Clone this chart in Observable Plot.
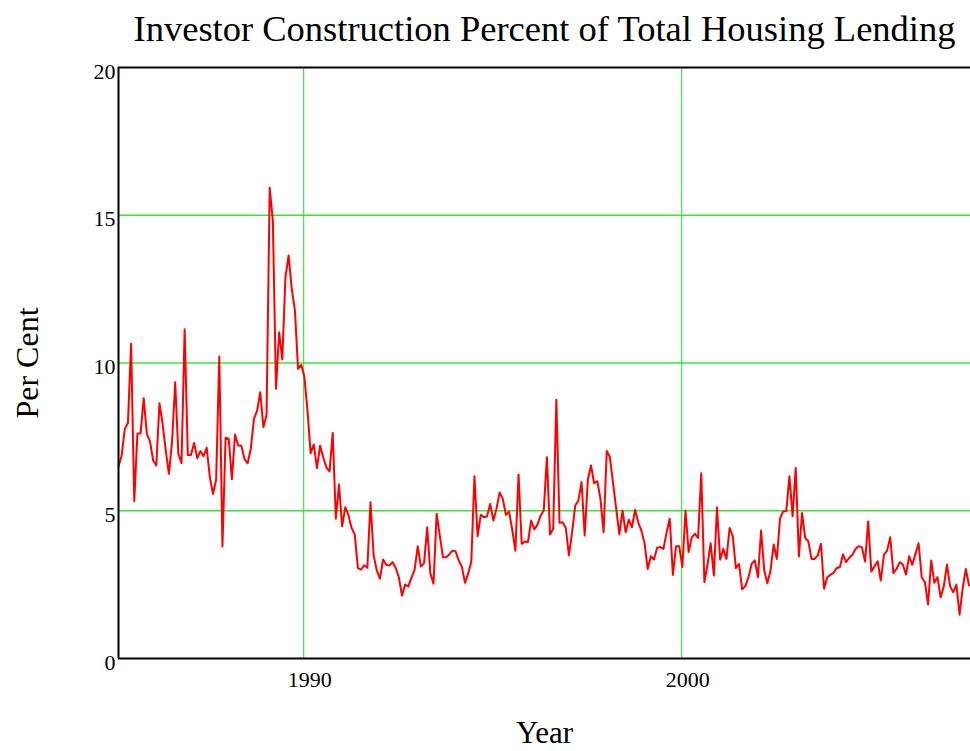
<!DOCTYPE html>
<html>
<head>
<meta charset="utf-8">
<script src="https://cdn.jsdelivr.net/npm/d3@7"></script>
<script src="https://cdn.jsdelivr.net/npm/@observablehq/plot@0.6"></script>
<style>
  html, body { margin: 0; padding: 0; background: #ffffff; }
  svg { display: block; }
</style>
</head>
<body>
<div id="chart"></div>
<script>
// ---- data ----
const titleText = "Investor Construction Percent of Total Housing Lending";
const xLabelText = "Year";
const yLabelText = "Per Cent";

const startYear = 1985.1;          // first observation (approx. Feb 1985), monthly thereafter
const xDomain = [1985.1, 2007.64];
const yDomain = [0, 20];
const xTicks = [1990, 2000];
const yTicks = [0, 5, 10, 15, 20];
const yGridLines = [5, 10, 15];

const percentValues = [
  6.50, 6.87, 7.77, 7.97, 10.65, 5.32, 7.61, 7.61, 8.81, 7.60,
  7.35, 6.70, 6.53, 8.64, 7.94, 7.04, 6.25, 7.32, 9.35, 6.93,
  6.61, 11.14, 6.89, 6.89, 7.29, 6.78, 7.02, 6.85, 7.13, 6.14,
  5.57, 6.05, 10.22, 3.79, 7.47, 7.43, 6.07, 7.58, 7.21, 7.20,
  6.75, 6.61, 7.10, 8.11, 8.39, 9.01, 7.83, 8.25,
  15.93, 14.82, 9.13, 11.04, 10.12, 12.90, 13.64, 12.51, 11.78, 9.80,
  9.94, 9.54, 8.39, 6.95, 7.24, 6.44, 7.20, 6.81, 6.47, 6.33,
  7.63, 4.73, 5.89, 4.47, 5.12, 4.85, 4.42, 4.19, 3.06, 3.01,
  3.15, 3.07, 5.29, 3.49, 2.98, 2.70, 3.35, 3.17, 3.15, 3.26,
  3.07,
  2.75, 2.13, 2.50, 2.44, 2.73, 3.00, 3.80, 3.11, 3.23, 4.44,
  2.89, 2.53, 4.90, 4.16, 3.43, 3.43, 3.52, 3.65, 3.63, 3.32,
  3.11, 2.56, 2.87, 3.28, 6.17, 4.14, 4.86, 4.78, 4.81, 5.23,
  4.67, 5.07, 5.62, 5.40, 4.86, 4.97, 4.35, 3.65, 6.23, 3.88,
  3.96, 3.94, 4.67, 4.37, 4.53, 4.84, 5.01,
  6.81, 4.20, 4.39, 8.76, 4.59, 4.61, 4.42, 3.49, 4.27, 5.18,
  5.35, 5.97, 4.16, 6.05, 6.53, 5.93, 6.00, 5.40, 4.27, 7.02,
  6.81, 5.93, 5.07, 4.20, 5.01, 4.27, 4.70, 4.44, 5.03, 4.61,
  4.33, 3.90, 3.03, 3.46, 3.35, 3.75, 3.77, 3.71, 4.27, 4.73,
  2.83, 3.80, 3.80,
  3.10, 5.01, 3.60, 4.10, 4.22, 4.08, 6.27, 2.58, 3.18, 3.90,
  2.81, 5.12, 3.34, 3.71, 3.37, 4.42, 4.14, 3.06, 3.20, 2.34,
  2.45, 2.75, 3.20, 3.32, 2.75, 4.33, 2.98, 2.55, 2.98, 3.86,
  3.37, 4.73, 4.98, 4.98, 6.17, 4.82, 6.45, 3.45, 4.92, 4.08,
  3.97, 3.37, 3.37, 3.49, 3.88, 2.36,
  2.75, 2.83, 2.90, 3.06, 3.09, 3.52, 3.26, 3.41, 3.51, 3.71,
  3.80, 3.77, 3.28, 4.64, 2.94, 3.12, 3.29, 2.64, 3.51, 3.65,
  4.10, 2.89, 3.03, 3.26, 3.18, 2.84, 3.46, 3.17, 3.54, 3.90,
  2.75, 2.58, 1.83, 3.32, 2.56, 2.75, 2.07, 2.44, 3.18, 2.45,
  2.24, 2.50, 1.48, 2.38, 3.03, 2.47
];

const data = percentValues.map((v, i) => ({ year: startYear + i / 12, value: v }));

const serif = "'Liberation Serif', 'Times New Roman', Times, serif";

const chart = Plot.plot({
  width: 970,
  height: 751,
  marginLeft: 118,
  marginRight: 0,
  marginTop: 67,
  marginBottom: 93,
  style: { fontFamily: serif, background: "#ffffff", color: "#000000", overflow: "visible" },
  x: { domain: xDomain },
  y: { domain: yDomain },
  marks: [
    Plot.ruleY(yGridLines, { stroke: "#33e833", strokeWidth: 1.5 }),
    Plot.ruleX(xTicks, { stroke: "#22dd22", strokeWidth: 1 }),
    Plot.axisX(xTicks, { tickSize: 0, tickPadding: 13, fontSize: 22, dx: 6, tickFormat: "d", label: null }),
    Plot.axisY(yTicks, { tickSize: 0, tickPadding: 3, fontSize: 22, dy: 4, label: null }),
    Plot.line(data, { x: "year", y: "value", stroke: "#ff0000", strokeWidth: 2 }),
    Plot.ruleY([yDomain[0], yDomain[1]], { stroke: "#000000", strokeWidth: 2 }),
    Plot.ruleX([xDomain[0]], { stroke: "#000000", strokeWidth: 2 }),
    Plot.text([titleText], { frameAnchor: "top", lineAnchor: "middle", dy: -38, fontSize: 36.5, textAnchor: "middle" }),
    Plot.text([xLabelText], { frameAnchor: "bottom", lineAnchor: "middle", dy: 75, fontSize: 31, textAnchor: "middle" }),
    Plot.text([yLabelText], { frameAnchor: "left", lineAnchor: "middle", dx: -91, rotate: -90, fontSize: 32, textAnchor: "middle" })
  ]
});

document.getElementById("chart").appendChild(chart);
</script>
</body>
</html>
